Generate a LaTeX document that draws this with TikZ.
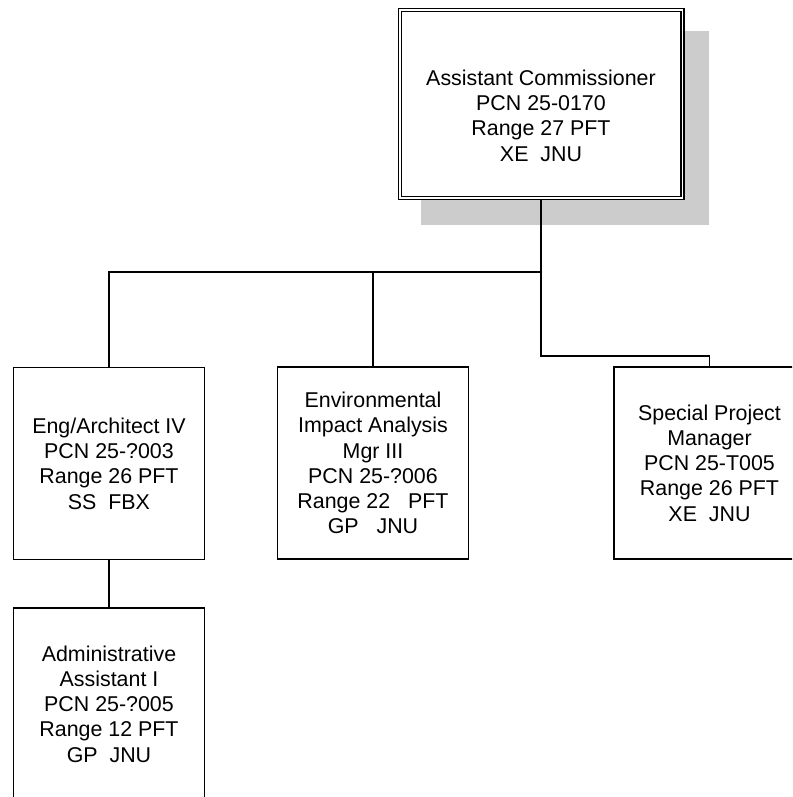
\documentclass[tikz,border=0pt]{standalone}
\usepackage{fontspec}
\setmainfont{Liberation Sans}
\usetikzlibrary{backgrounds}
\pgfdeclarelayer{edges}
\pgfsetlayers{background,edges,main}
\definecolor{shadowgray}{HTML}{CCCCCC}
\tikzset{
  orgbox/.style={draw=black, fill=white, line width=1.5pt, inner sep=0pt,
    minimum width=191pt, minimum height=192pt, align=center,
    font=\fontsize{21.4}{25.3}\selectfont},
  topbox/.style={draw=black, fill=white, double=white, line width=1.5pt,
    double distance=1.5pt, inner sep=0pt, minimum width=282.5pt, minimum height=187.5pt},
  toptext/.style={inner sep=0pt, align=center, font=\fontsize{21.4}{25.3}\selectfont},
  link/.style={draw=black, line width=1.5pt}
}
\begin{document}
\begin{tikzpicture}[x=1pt,y=-1pt]
\clip (0,0) rectangle (792,797);

\node[topbox] (ac) at (541,104) {};
\node[toptext] (actext) at (541,115.5) {Assistant Commissioner\\PCN 25-0170\\Range 27 PFT\\XE\ \ JNU};

\node[orgbox] (ea) at (109,463.5) {Eng/Architect IV\\PCN 25-?003\\Range 26 PFT\\SS\ \ FBX};
\node[orgbox] (eia) at (373,463) {Environmental\\Impact Analysis\\Mgr III\\PCN 25-?006\\Range 22\ \ \ PFT\\GP\ \ \ JNU};
\node[orgbox] (spm) at (709.5,463) {Special Project\\Manager\\PCN 25-T005\\Range 26 PFT\\XE\ \ JNU};
\node[orgbox] (aa) at (109,704) {Administrative\\Assistant I\\PCN 25-?005\\Range 12 PFT\\GP\ \ JNU};

\coordinate (hy) at (0,272);
\coordinate (ry) at (0,356);

\begin{pgfonlayer}{background}
  \fill[white] (0,0) rectangle (792,797);
  \fill[shadowgray] ([shift={(21.75,21.75)}]ac.north west) rectangle ([shift={(26.25,26.25)}]ac.south east);
\end{pgfonlayer}

\begin{pgfonlayer}{edges}
  \draw[link] (ac.south) -- (ac.south |- ry) -| (spm.north);
  \draw[link] (ea.north) |- (ac.south |- hy);
  \draw[link] (eia.north) -- (eia.north |- hy);
  \draw[link] (ea.south) -- (aa.north);
\end{pgfonlayer}
\end{tikzpicture}
\end{document}
